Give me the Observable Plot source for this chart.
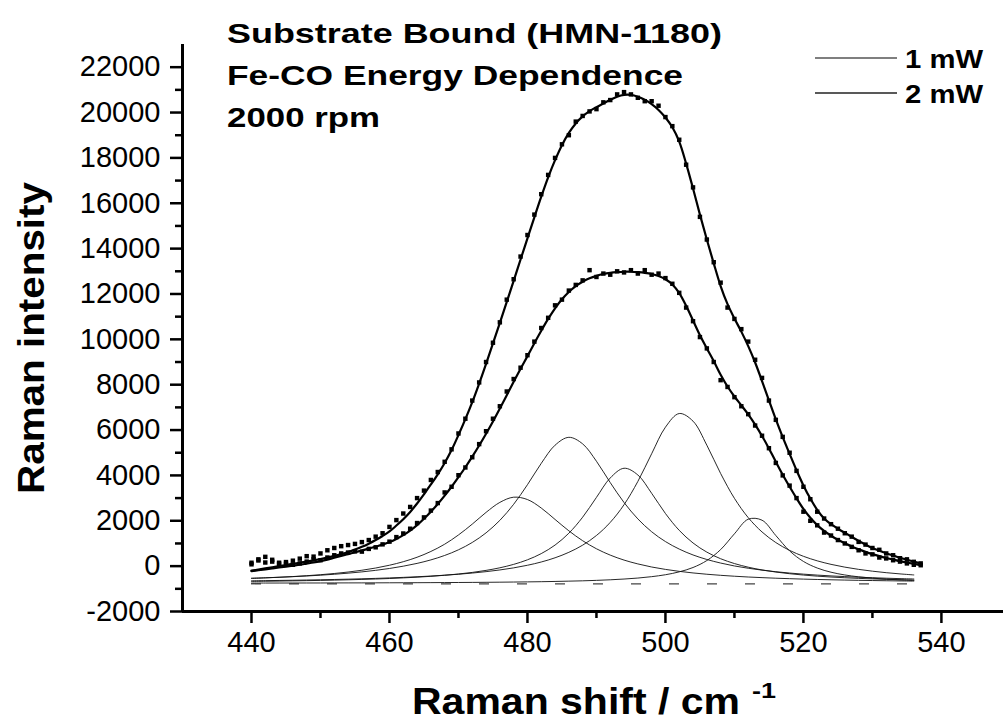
<!DOCTYPE html>
<html>
<head>
<meta charset="utf-8">
<script src="https://cdn.jsdelivr.net/npm/d3@7"></script>
<script src="https://cdn.jsdelivr.net/npm/@observablehq/plot@0.6"></script>
<style>
  html, body { margin: 0; padding: 0; background: #fff; }
  #wrap { position: relative; width: 1003px; height: 725px; overflow: hidden; }
  #overlay { position: absolute; left: 0; top: 0; pointer-events: none; }
</style>
</head>
<body>
<div id="wrap"><div id="chart"></div></div>
<script>
// ---------- data ----------
const titleLines = ["Substrate Bound (HMN-1180)", "Fe-CO Energy Dependence", "2000 rpm"];
const seriesNames = ["1 mW", "2 mW"];
const yAxisTitle = "Raman intensity";
const xAxisTitle = "Raman shift / cm";
const xAxisTitleSup = "-1";

const xMajorTicks = [440, 460, 480, 500, 520, 540];
const xMinorTicks = [450, 470, 490, 510, 530];
const yMajorTicks = [-2000, 0, 2000, 4000, 6000, 8000, 10000, 12000, 14000, 16000, 18000, 20000, 22000];
const yMinorTicks = [-1000, 1000, 3000, 5000, 7000, 9000, 11000, 13000, 15000, 17000, 19000, 21000];

// measured Raman shift (cm-1)
const shiftX = [
  440, 441, 442, 443, 444, 445, 446, 447, 448, 449,
  450, 451, 452, 453, 454, 455, 456, 457, 458, 459,
  460, 461, 462, 463, 464, 465, 466, 467, 468, 469,
  470, 471, 472, 473, 474, 475, 476, 477, 478, 479,
  480, 481, 482, 483, 484, 485, 486, 487, 488, 489,
  490, 491, 492, 493, 494, 495, 496, 497, 498, 499,
  500, 501, 502, 503, 504, 505, 506, 507, 508, 509,
  510, 511, 512, 513, 514, 515, 516, 517, 518, 519,
  520, 521, 522, 523, 524, 525, 526, 527, 528, 529,
  530, 531, 532, 533, 534, 535, 536, 537
];

// 2 mW: measured points and fit
const dots2mW = [
  150, 250, 410, 200, 150, 100, 60, 330, 440, 420,
  560, 700, 800, 880, 930, 980, 1060, 1150, 1300, 1450,
  1730, 2030, 2320, 2610, 3000, 3330, 3800, 4150, 4600, 5150,
  5850, 6500, 7300, 8100, 9000, 9850, 10750, 11750, 12650, 13650,
  14600, 15500, 16400, 17250, 18000, 18600, 19000, 19600, 19850, 20050,
  20150, 20450, 20550, 20800, 20900, 20800, 20650, 20500, 20500, 20300,
  19800, 19400, 18800, 17700, 16700, 15400, 14400, 13400, 12500, 11400,
  10900, 10450, 9900, 9100, 8300, 7300, 6450, 5700, 5000, 4200,
  3500, 2950, 2400, 2100, 1850, 1650, 1450, 1300, 1070, 950,
  800, 720, 560, 480, 350, 300, 190, 120
];
const fit2mW = [
  -200, -150, -100, -50, 0, 50, 100, 150, 200, 255,
  315, 380, 450, 530, 620, 730, 850, 990, 1150, 1330,
  1530, 1790, 2070, 2390, 2760, 3170, 3600, 4050, 4550, 5120,
  5780, 6480, 7230, 8050, 8920, 9820, 10730, 11650, 12580, 13520,
  14450, 15380, 16290, 17140, 17900, 18560, 19100, 19520, 19830, 20060,
  20240, 20400, 20560, 20700, 20780, 20780, 20700, 20560, 20370, 20110,
  19780, 19350, 18720, 17750, 16650, 15500, 14400, 13350, 12350, 11550,
  10920, 10340, 9700, 8980, 8160, 7310, 6470, 5690, 4950, 4230,
  3560, 2980, 2480, 2100, 1850, 1650, 1470, 1290, 1110, 950,
  800, 680, 570, 470, 370, 280, 200, 120
];

// 1 mW: measured points and fit
const dots1mW = [
  80, 300, 160, 280, 100, 180, 240, 120, 200, 300,
  260, 380, 480, 560, 600, 650, 640, 760, 830, 960,
  1080, 1280, 1440, 1650, 1900, 2150, 2450, 2780, 3250, 3500,
  4010, 4350, 4800, 5380, 5950, 6500, 7050, 7700, 8250, 8750,
  9300, 9900, 10500, 10950, 11500, 11750, 12150, 12400, 12600, 13050,
  12750, 12900, 12850, 13000, 12950, 13050, 12900, 13050, 12850, 12900,
  12700, 12450, 12050, 11400, 10800, 10100, 9600, 9000, 8200, 7900,
  7450, 7050, 6700, 6200, 5750, 5200, 4550, 4000, 3550, 3000,
  2400, 2000, 1800, 1480, 1350, 1150, 1000, 850, 700, 560,
  520, 380, 340, 260, 200, 120, 60, 40
];
const fit1mW = [
  -220, -180, -140, -100, -60, -20, 20, 60, 110, 160,
  220, 290, 370, 450, 530, 610, 690, 770, 860, 950,
  1060, 1200, 1370, 1570, 1810, 2090, 2400, 2740, 3110, 3500,
  3920, 4360, 4830, 5320, 5840, 6380, 6950, 7540, 8130, 8700,
  9260, 9830, 10380, 10900, 11370, 11770, 12090, 12350, 12540, 12690,
  12800, 12880, 12930, 12960, 12980, 12980, 12960, 12930, 12880, 12790,
  12650, 12420, 12040, 11480, 10830, 10180, 9600, 9040, 8440, 7920,
  7480, 7090, 6690, 6240, 5740, 5190, 4600, 4030, 3500, 2990,
  2520, 2130, 1810, 1550, 1340, 1160, 1010, 870, 740, 630,
  530, 440, 360, 290, 220, 160, 100, 40
];

// fitted component bands
const compX = [
  440, 442, 444, 446, 448, 450, 452, 454, 456, 458,
  460, 462, 464, 466, 468, 470, 472, 474, 476, 478,
  480, 482, 484, 486, 488, 490, 492, 494, 496, 498,
  500, 502, 504, 506, 508, 510, 512, 514, 516, 518,
  520, 522, 524, 526, 528, 530, 532, 534, 536
];
const band478 = [
  -541, -518, -491, -459, -422, -378, -324, -260, -181, -83,
  40, 195, 392, 647, 967, 1375, 1853, 2370, 2811, 3040,
  2936, 2562, 2059, 1557, 1121, 766, 486, 267, 98, -38,
  -144, -230, -300, -357, -405, -445, -479, -507, -532, -553,
  -572, -588, -602, -614, -626, -635, -644, -652, -659
];
const band486 = [
  -534, -513, -490, -464, -434, -399, -358, -310, -253, -185,
  -103, -2, 121, 275, 471, 720, 1044, 1468, 2019, 2727,
  3591, 4532, 5333, 5680, 5391, 4625, 3684, 2806, 2082, 1516,
  1083, 752, 493, 294, 136, 8, -93, -177, -246, -305,
  -353, -395, -431, -461, -488, -511, -532, -550, -566
];
const band494 = [
  -672, -665, -658, -649, -640, -629, -616, -602, -585, -567,
  -545, -518, -487, -449, -403, -347, -277, -187, -73, 78,
  279, 553, 929, 1452, 2158, 3031, 3888, 4316, 4021, 3212,
  2321, 1577, 1021, 618, 327, 114, -46, -167, -260, -334,
  -393, -441, -480, -512, -539, -562, -582, -599, -614
];
const band502 = [
  -647, -640, -631, -622, -612, -601, -588, -574, -558, -540,
  -520, -496, -468, -437, -399, -357, -305, -243, -168, -76,
  39, 183, 368, 609, 925, 1351, 1929, 2709, 3734, 4956,
  6127, 6729, 6392, 5333, 4085, 2990, 2139, 1507, 1040, 694,
  434, 234, 79, -44, -142, -222, -288, -342, -388
];
const band513 = [
  -746, -746, -745, -744, -743, -742, -740, -739, -738, -736,
  -734, -732, -730, -727, -724, -721, -717, -713, -707, -701,
  -694, -686, -675, -662, -647, -627, -602, -569, -525, -464,
  -379, -252, -60, 247, 730, 1426, 2069, 2026, 1350, 671,
  208, -83, -268, -389, -471, -530, -573, -605, -629
];
const baselineLevel = [{x1: 440, x2: 537, y: -780}];

// ---------- tables ----------
const dotRows = [], fitRows = [];
shiftX.forEach((x, i) => {
  dotRows.push({x, y: dots2mW[i]});
  dotRows.push({x, y: dots1mW[i]});
  fitRows.push({x, y: fit2mW[i], s: "2 mW"});
  fitRows.push({x, y: fit1mW[i], s: "1 mW"});
});
const bands = [band478, band486, band494, band502, band513];
const bandRows = [];
bands.forEach((b, k) => compX.forEach((x, i) => bandRows.push({x, y: b[i], band: k})));

const font = "'Liberation Sans', Arial, Helvetica, sans-serif";

const chart = Plot.plot({
  width: 1003,
  height: 725,
  marginLeft: 182,
  marginRight: 0,
  marginTop: 44,
  marginBottom: 114,
  x: {domain: [430, 549]},
  y: {domain: [-2000, 23000]},
  style: {fontFamily: font, color: "#000", background: "#fff", overflow: "visible"},
  marks: [
    Plot.ruleY(baselineLevel, {x1: "x1", x2: "x2", y: "y", stroke: "#444", strokeWidth: 1.2, strokeDasharray: "10 28"}),
    Plot.line(bandRows, {x: "x", y: "y", z: "band", curve: "catmull-rom", stroke: "#111", strokeWidth: 1, strokeOpacity: 0.9}),
    Plot.line(fitRows, {x: "x", y: "y", z: "s", curve: "catmull-rom", stroke: "#000", strokeWidth: 2.2}),
    Plot.dot(dotRows, {x: "x", y: "y", symbol: "square", r: 2.5, fill: "#000", stroke: null}),
    Plot.axisY(yMajorTicks, {tickSize: 12, tickPadding: 10, strokeWidth: 2.5, fontSize: 29, tickFormat: d => String(d), label: null}),
    Plot.axisY(yMinorTicks, {tickSize: 7, strokeWidth: 2.5, tickFormat: () => "", label: null}),
    Plot.axisX(xMajorTicks, {tickSize: 12, tickPadding: 8, strokeWidth: 2.5, fontSize: 29, tickFormat: d => String(d), label: null}),
    Plot.axisX(xMinorTicks, {tickSize: 7, strokeWidth: 2.5, tickFormat: () => "", label: null}),
    Plot.ruleX([430], {stroke: "#000", strokeWidth: 3}),
    Plot.ruleY([-2000], {stroke: "#000", strokeWidth: 3})
  ]
});
document.getElementById("chart").appendChild(chart);

// ---------- text overlay (titles, legend, axis titles) ----------
const ns = "http://www.w3.org/2000/svg";
const ov = document.createElementNS(ns, "svg");
ov.setAttribute("id", "overlay");
ov.setAttribute("width", 1003);
ov.setAttribute("height", 725);
function txt(str, attrs) {
  const t = document.createElementNS(ns, "text");
  t.textContent = str;
  t.setAttribute("font-family", font);
  for (const k in attrs) t.setAttribute(k, attrs[k]);
  ov.appendChild(t);
  return t;
}
const titleBaselines = [43, 85, 127];
const titleWidths = [495, 456, 153];
titleLines.forEach((s, i) => txt(s, {x: 227, y: titleBaselines[i], "font-size": 28, "font-weight": "bold",
  textLength: titleWidths[i], lengthAdjust: "spacingAndGlyphs"}));

// legend
const legendY = [58, 93];
const legendStroke = ["#555", "#222"];
seriesNames.forEach((s, i) => {
  const l = document.createElementNS(ns, "line");
  l.setAttribute("x1", 815); l.setAttribute("x2", 897);
  l.setAttribute("y1", legendY[i]); l.setAttribute("y2", legendY[i]);
  l.setAttribute("stroke", legendStroke[i]); l.setAttribute("stroke-width", 1.5);
  ov.appendChild(l);
  txt(s, {x: 905, y: legendY[i] + 10, "font-size": 26, "font-weight": "bold",
    textLength: 78, lengthAdjust: "spacingAndGlyphs"});
});

// y axis title
txt(yAxisTitle, {x: 0, y: 0, "font-size": 36, "font-weight": "bold", "text-anchor": "middle",
  textLength: 312, lengthAdjust: "spacingAndGlyphs", transform: "translate(44,338) rotate(-90)"});

// x axis title with superscript
txt(xAxisTitle, {x: 412, y: 714, "font-size": 36, "font-weight": "bold",
  textLength: 328, lengthAdjust: "spacingAndGlyphs"});
txt(xAxisTitleSup, {x: 752, y: 698, "font-size": 22, "font-weight": "bold",
  textLength: 24, lengthAdjust: "spacingAndGlyphs"});

document.getElementById("wrap").appendChild(ov);
</script>
</body>
</html>
